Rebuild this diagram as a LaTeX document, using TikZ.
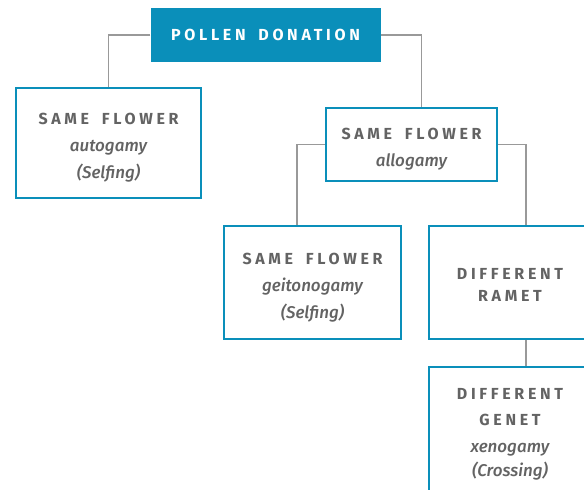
\documentclass[tikz,border=0pt]{standalone}
\usepackage{fontspec}
\setmainfont{Fira Sans}
\IfFontExistsTF{Fira Sans Medium Italic}
  {\newfontfamily\itmed{Fira Sans Medium Italic}}
  {\IfFontExistsTF{Fira Sans SemiBold Italic}
    {\newfontfamily\itmed{Fira Sans SemiBold Italic}}
    {\newfontfamily\itmed{Fira Sans Italic}[FakeBold=1.2]}}
\definecolor{boxblue}{HTML}{0A8FBA}
\definecolor{txtgray}{HTML}{636363}
\definecolor{linegray}{HTML}{999999}
\newcommand{\capsT}[1]{{\bfseries\addfontfeature{LetterSpace=23}#1}}
\newcommand{\wsp}{\hspace{0.8em}}
\newcommand{\itT}[1]{{\fontsize{17}{27}\itmed #1}}
\begin{document}
\begin{tikzpicture}[x=1pt,y=-1pt,
  box/.style={draw=boxblue, line width=2.9pt, fill=white, inner sep=0pt},
  lbl/.style={text=txtgray, align=center, inner sep=0pt, font=\fontsize{16}{27}\selectfont},
  topbox/.style={fill=boxblue, text=white, inner sep=0pt, font=\fontsize{16}{27}\selectfont,
    minimum width=230pt, minimum height=54pt},
  conn/.style={draw=linegray, line width=1.2pt}]
\useasboundingbox (0,0) rectangle (584,490);
\clip (0,0) rectangle (584,490);

\node[topbox] (top) at (265.5,35) {\capsT{POLLEN\wsp DONATION}};
\node[box, minimum width=185pt, minimum height=110pt] (auto) at (108.5,143) {};
\node[box, minimum width=171pt, minimum height=73pt] (allo) at (411.5,144.5) {};
\node[box, minimum width=177pt, minimum height=113pt] (geit) at (312.5,282.5) {};
\node[box, minimum width=162pt, minimum height=113pt] (ramet) at (510,282.5) {};
\node[box, minimum width=162pt, minimum height=128pt] (genet) at (510,431) {};

\node[lbl] (autoT) at ([yshift=-5pt]auto.center)
  {\capsT{SAME\wsp FLOWER}\\\itT{autogamy}\\\itT{(Selfing)}};
\node[lbl] (alloT) at ([yshift=-4.5pt]allo.center)
  {\capsT{SAME\wsp FLOWER}\\\itT{allogamy}};
\node[lbl] (geitT) at ([yshift=-5pt]geit.center)
  {\capsT{SAME\wsp FLOWER}\\\itT{geitonogamy}\\\itT{(Selfing)}};
\node[lbl] (rametT) at ([yshift=-2pt]ramet.center)
  {\capsT{DIFFERENT}\\[-5pt]\capsT{RAMET}};
\node[lbl] (genetT) at ([yshift=-3pt]genet.center)
  {\capsT{DIFFERENT}\\[-1pt]\capsT{GENET}\\\itT{xenogamy}\\[-3pt]\itT{(Crossing)}};

\draw[conn] (top.west) -| (auto.north);
\draw[conn] (top.east) -| ([xshift=10pt]allo.north);
\draw[conn] (allo.west) -| ([xshift=-15.5pt]geit.north);
\draw[conn] (allo.east) -| ([xshift=16pt]ramet.north);
\draw[conn] ([xshift=16pt]ramet.south) -- ([xshift=16pt]genet.north);
\end{tikzpicture}
\end{document}
